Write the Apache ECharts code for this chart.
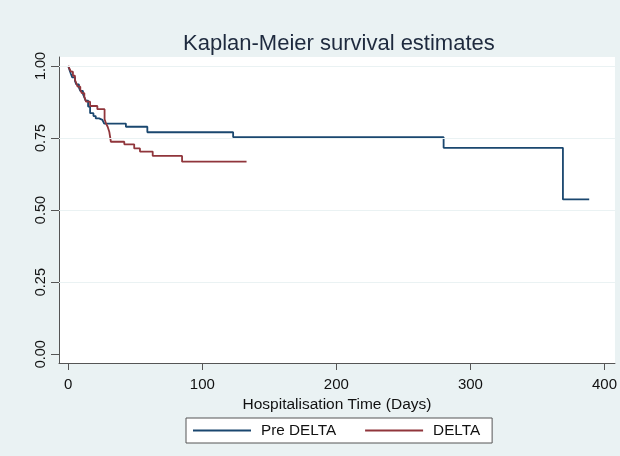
<!DOCTYPE html>
<html>
<head>
<meta charset="utf-8">
<script src="https://cdn.jsdelivr.net/npm/echarts@6/dist/echarts.min.js"></script>
<style>
  html, body { margin: 0; padding: 0; background: #eaf2f3; }
  #chart { width: 620px; height: 456px; }
</style>
</head>
<body>
<div id="chart"></div>
<script>
// ---- Data ----
const titleText = "Kaplan-Meier survival estimates";
const xAxisTitle = "Hospitalisation Time (Days)";
const seriesNames = ["Pre DELTA", "DELTA"];

const preDeltaDays = [0, 1, 2, 3, 5, 6, 8, 9, 11, 12, 13, 14.8, 16.3, 18.8, 20.5, 23, 25.5, 26.8, 43, 59, 123, 280, 369, 388.6];
const preDeltaSurv = [1.0, 0.985, 0.972, 0.96, 0.948, 0.936, 0.925, 0.913, 0.902, 0.891, 0.88, 0.859, 0.836, 0.826, 0.818, 0.813, 0.807, 0.800, 0.789, 0.770, 0.753, 0.716, 0.537, 0.537];

const deltaDays = [0, 1, 2, 3.5, 5, 6, 7, 9, 10, 12, 13.3, 16.3, 21.7, 27.1, 28.1, 29.4, 30.6, 31.8, 41.8, 49.2, 53.5, 63, 84.9, 133];
const deltaSurv = [1.0, 0.99, 0.98, 0.966, 0.952, 0.94, 0.928, 0.918, 0.906, 0.893, 0.876, 0.861, 0.850, 0.815, 0.801, 0.789, 0.772, 0.737, 0.728, 0.714, 0.703, 0.688, 0.668, 0.668];

const xTickValues = [0, 100, 200, 300, 400];
const yTickValues = [0, 0.25, 0.5, 0.75, 1.0];
const yGridValues = [0.25, 0.5, 0.75, 1.0];

// ---- Build ----
const zip = (xs, ys) => xs.map((x, i) => [x, ys[i]]);
const FONT = "'Liberation Sans', Arial, sans-serif";

const chart = echarts.init(document.getElementById('chart'), null, { renderer: 'canvas' });
const option = {
  backgroundColor: '#eaf2f3',
  animation: false,
  textStyle: { fontFamily: FONT },
  title: {
    text: titleText,
    left: 183,
    top: 33,
    padding: 0,
    textStyle: { fontSize: 22, fontWeight: 'normal', color: '#1e2a3e', fontFamily: FONT }
  },
  grid: {
    left: 59, right: 0, top: 57, bottom: 93,
    show: true, backgroundColor: '#ffffff', borderWidth: 0,
    containLabel: false
  },
  legend: {
    data: seriesNames,
    left: 186, top: 418,
    icon: 'rect',
    itemWidth: 58, itemHeight: 2, itemGap: 29,
    padding: [5, 12, 5, 7],
    backgroundColor: '#ffffff',
    borderColor: '#555555', borderWidth: 1,
    textStyle: { fontSize: 15.3, lineHeight: 15, color: '#111111', fontFamily: FONT, padding: [0, 0, 0, 5] }
  },
  xAxis: {
    type: 'value',
    min: -6.9, max: 407.8,
    name: xAxisTitle,
    nameLocation: 'middle',
    nameGap: 31,
    nameTextStyle: { fontSize: 15.5, color: '#111111', fontFamily: FONT },
    axisLine: { show: true, onZero: false, lineStyle: { color: '#555555', width: 1 } },
    axisTick: { show: true, length: 7, customValues: xTickValues, lineStyle: { color: '#555555' } },
    axisLabel: { customValues: xTickValues, fontSize: 15, color: '#111111', margin: 14, fontFamily: FONT },
    splitLine: { show: false }
  },
  yAxis: {
    type: 'value',
    min: -0.0305, max: 1.031,
    axisLine: { show: true, onZero: false, lineStyle: { color: '#555555', width: 1 } },
    axisTick: { show: true, length: 8, customValues: yTickValues, lineStyle: { color: '#555555' } },
    axisLabel: {
      customValues: yTickValues, rotate: 90, fontSize: 14.5, color: '#111111', margin: 11,
      fontFamily: FONT, formatter: v => Number(v).toFixed(2)
    },
    splitLine: { show: false }
  },
  series: [
    {
      name: '_grid', type: 'line', data: [], z: 1, silent: true,
      markLine: {
        silent: true, symbol: 'none', animation: false,
        label: { show: false },
        lineStyle: { color: '#eaf2f3', width: 1, type: 'solid' },
        data: yGridValues.map(v => ({ yAxis: v }))
      }
    },
    {
      name: seriesNames[0], type: 'line', step: 'end', symbol: 'none', z: 3,
      color: '#1a476f',
      lineStyle: { color: '#1a476f', width: 1.8 },
      data: zip(preDeltaDays, preDeltaSurv)
    },
    {
      name: seriesNames[1], type: 'line', step: 'end', symbol: 'none', z: 3,
      color: '#90353b',
      lineStyle: { color: '#90353b', width: 1.8 },
      data: zip(deltaDays, deltaSurv)
    }
  ]
};
chart.setOption(option);
</script>
</body>
</html>
